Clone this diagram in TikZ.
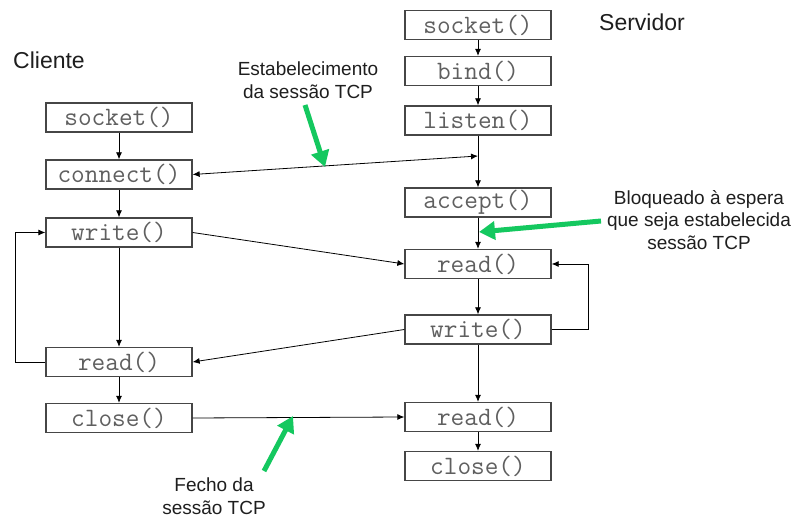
\documentclass[tikz,border=0pt]{standalone}
\usepackage{fontspec}
\setmainfont{Liberation Sans}
\usetikzlibrary{arrows.meta}
\definecolor{boxline}{RGB}{70,70,70}
\definecolor{calltext}{RGB}{95,95,95}
\definecolor{notegreen}{RGB}{20,200,95}
\definecolor{notetext}{RGB}{30,30,30}
\tikzset{
  call/.style={draw=boxline, line width=1.3pt, minimum width=146pt, minimum height=29pt,
    inner sep=0pt, text=calltext, font=\ttfamily\fontsize{26.5}{26.5}\selectfont},
  flow/.style={line width=0.8pt, -{Latex[length=7pt,width=6pt]}},
  flowboth/.style={line width=0.8pt, {Latex[length=7pt,width=6pt]}-{Latex[length=7pt,width=6pt]}},
  note/.style={align=center, text=notetext, font=\fontsize{19}{22.5}\selectfont, inner sep=0pt},
  title/.style={text=notetext, font=\fontsize{23}{23}\selectfont, inner sep=0pt},
  pointer/.style={draw=notegreen, line width=5pt, -{Triangle[length=16pt,width=18pt]}}
}
\begin{document}
\begin{tikzpicture}[x=1pt,y=-1pt]
  \useasboundingbox (0,0) rectangle (798,518);

  % titles
  \node[title] (tcli) at (49,60) {Cliente};
  \node[title] (tsrv) at (642,22) {Servidor};

  % client calls
  \node[call] (csocket)  at (119,117.5) {socket()};
  \node[call] (cconnect) at (119,174.5) {connect()};
  \node[call] (cwrite)   at (119,232.5) {write()};
  \node[call] (cread)    at (119,362)   {read()};
  \node[call] (cclose)   at (119,418)   {close()};

  % server calls
  \node[call] (ssocket) at (478,25)    {socket()};
  \node[call] (sbind)   at (478,71)    {bind()};
  \node[call] (slisten) at (478,120.5) {listen()};
  \node[call] (saccept) at (478,202.5) {accept()};
  \node[call] (sread)   at (478,264)   {read()};
  \node[call] (swrite)  at (478,329.5) {write()};
  \node[call] (sread2)  at (478,417)   {read()};
  \node[call] (sclose)  at (478,466)   {close()};

  % client sequence
  \draw[flow] (csocket) -- (cconnect);
  \draw[flow] (cconnect) -- (cwrite);
  \draw[flow] (cwrite) -- (cread);
  \draw[flow] (cread) -- (cclose);
  \draw[flow] (cread.west) -- ++(-30,0) |- (cwrite.west);

  % server sequence
  \draw[flow] (ssocket) -- (sbind);
  \draw[flow] (sbind) -- (slisten);
  \draw[flow] (slisten) -- (saccept);
  \draw[flow] (saccept) -- (sread);
  \draw[flow] (sread) -- (swrite);
  \draw[flow] (swrite) -- (sread2);
  \draw[flow] (sread2) -- (sclose);
  \draw[flow] (swrite.east) -- ++(37,0) |- (sread.east);

  % exchanges between client and server
  \coordinate (handshake) at (478,156);
  \draw[flowboth] (cconnect.east) -- (handshake);
  \draw[flow] (cwrite.east) -- (sread.west);
  \draw[flow] (swrite.west) -- (cread.east);
  \draw[flow] (cclose.east) -- (sread2.west);

  % annotations
  \node[note] (nest) at (308,80) {Estabelecimento\\da sessão TCP};
  \node[note] (nblk) at (699,220) {Bloqueado à espera\\que seja estabelecida\\sessão TCP};
  \node[note] (nfim) at (214,496) {Fecho da\\sessão TCP};

  \coordinate (pest) at (305,105);
  \coordinate (qest) at (325,167);
  \coordinate (pblk) at (601,221);
  \coordinate (qblk) at (479,232);
  \coordinate (pfim) at (264,471);
  \coordinate (qfim) at (293,416);
  \draw[pointer] (pest) -- (qest);
  \draw[pointer] (pblk) -- (qblk);
  \draw[pointer] (pfim) -- (qfim);
\end{tikzpicture}
\end{document}
